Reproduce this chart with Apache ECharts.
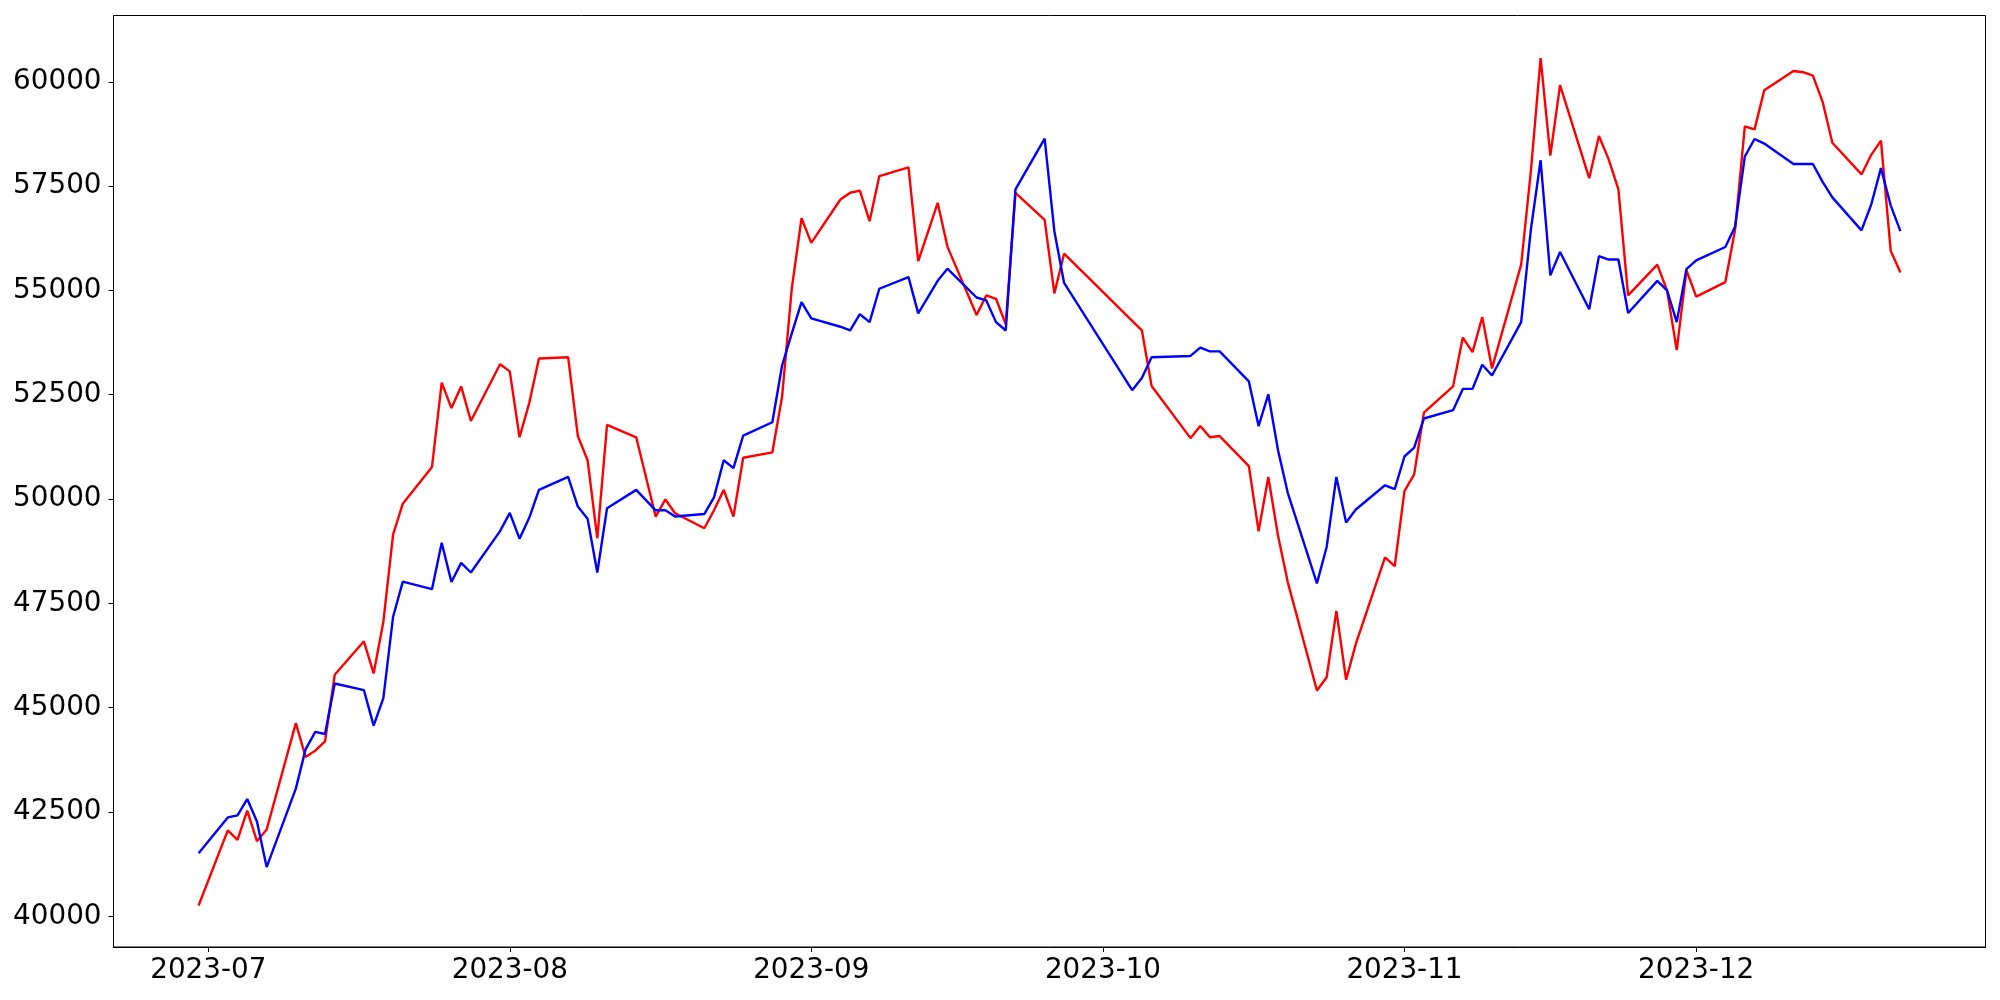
<!DOCTYPE html>
<html>
<head>
<meta charset="utf-8">
<script src="https://cdn.jsdelivr.net/npm/echarts@6/dist/echarts.min.js"></script>
<style>
  html, body { margin: 0; padding: 0; background: #fff; }
  #main { width: 2000px; height: 1000px; }
</style>
</head>
<body>
<div id="main"></div>
<script>
  // trading days (KRX calendar)
  const dates = [
    '2023-06-30',
    '2023-07-03', '2023-07-04', '2023-07-05', '2023-07-06', '2023-07-07',
    '2023-07-10', '2023-07-11', '2023-07-12', '2023-07-13', '2023-07-14',
    '2023-07-17', '2023-07-18', '2023-07-19', '2023-07-20', '2023-07-21',
    '2023-07-24', '2023-07-25', '2023-07-26', '2023-07-27', '2023-07-28',
    '2023-07-31', '2023-08-01', '2023-08-02', '2023-08-03', '2023-08-04',
    '2023-08-07', '2023-08-08', '2023-08-09', '2023-08-10', '2023-08-11',
    '2023-08-14', '2023-08-16', '2023-08-17', '2023-08-18',
    '2023-08-21', '2023-08-22', '2023-08-23', '2023-08-24', '2023-08-25',
    '2023-08-28', '2023-08-29', '2023-08-30', '2023-08-31', '2023-09-01',
    '2023-09-04', '2023-09-05', '2023-09-06', '2023-09-07', '2023-09-08',
    '2023-09-11', '2023-09-12', '2023-09-13', '2023-09-14', '2023-09-15',
    '2023-09-18', '2023-09-19', '2023-09-20', '2023-09-21', '2023-09-22',
    '2023-09-25', '2023-09-26', '2023-09-27',
    '2023-10-04', '2023-10-05', '2023-10-06',
    '2023-10-10', '2023-10-11', '2023-10-12', '2023-10-13',
    '2023-10-16', '2023-10-17', '2023-10-18', '2023-10-19', '2023-10-20',
    '2023-10-23', '2023-10-24', '2023-10-25', '2023-10-26', '2023-10-27',
    '2023-10-30', '2023-10-31', '2023-11-01', '2023-11-02', '2023-11-03',
    '2023-11-06', '2023-11-07', '2023-11-08', '2023-11-09', '2023-11-10',
    '2023-11-13', '2023-11-14', '2023-11-15', '2023-11-16', '2023-11-17',
    '2023-11-20', '2023-11-21', '2023-11-22', '2023-11-23', '2023-11-24',
    '2023-11-27', '2023-11-28', '2023-11-29', '2023-11-30', '2023-12-01',
    '2023-12-04', '2023-12-05', '2023-12-06', '2023-12-07', '2023-12-08',
    '2023-12-11', '2023-12-12', '2023-12-13', '2023-12-14', '2023-12-15',
    '2023-12-18', '2023-12-19', '2023-12-20', '2023-12-21', '2023-12-22'
  ]

  const redValues = [
    40260,
    42060, 41830, 42530, 41800, 42080,
    44630, 43820, 43970, 44190, 45790,
    46590, 45820, 47060, 49150, 49890,
    50770, 52790, 52180, 52700, 51870,
    53230, 53060, 51480, 52300, 53370,
    53400, 51510, 50930, 49060, 51780,
    51480, 49580, 49990, 49660,
    49300, 49730, 50220, 49580, 50990,
    51120, 52450, 55050, 56730, 56140,
    57180, 57340, 57390, 56660, 57740,
    57950, 55700, 56400, 57100, 56050,
    54410, 54880, 54800, 54190, 57340,
    56690, 54930, 55880,
    54270, 54040, 52710,
    51460, 51750, 51480, 51510,
    50790, 49230, 50530, 49120, 48010,
    45410, 45730, 47320, 45670, 46530,
    48600, 48390, 50190, 50590, 52070,
    52700, 53870, 53520, 54360, 53130,
    55620, 57860, 60570, 58230, 59920,
    57690, 58700, 58140, 57420, 54880,
    55620, 55000, 53570, 55480, 54850,
    55200, 56460, 58930, 58860, 59800,
    60260, 60230, 60150, 59520, 58540,
    57780, 58250, 58590, 55950, 55430
  ]

  const blueValues = [
    41510,
    42370, 42420, 42810, 42270, 41180,
    43060, 44000, 44420, 44370, 45580,
    45420, 44570, 45230, 47180, 48020,
    47840, 48950, 48010, 48470, 48240,
    49230, 49670, 49050, 49550, 50220,
    50530, 49820, 49530, 48240, 49780,
    50220, 49730, 49730, 49580,
    49640, 50040, 50930, 50740, 51520,
    51840, 53200, 53970, 54720, 54330,
    54130, 54040, 54430, 54240, 55040,
    55320, 54450, 54840, 55230, 55520,
    54830, 54760, 54240, 54040, 57420,
    58640, 56420, 55180,
    52610, 52900, 53400,
    53430, 53630, 53540, 53540,
    52820, 51750, 52510, 51170, 50150,
    47980, 48850, 50530, 49440, 49750,
    50330, 50240, 51020, 51230, 51930,
    52130, 52640, 52640, 53220, 52960,
    54240, 56460, 58120, 55360, 55920,
    54550, 55820, 55740, 55740, 54460,
    55230, 55000, 54240, 55510, 55720,
    56040, 56530, 58210, 58630, 58520,
    58030, 58030, 58030, 57600, 57230,
    56440, 57060, 57930, 57040, 56420
  ]

  const monthTicks = ['2023-07-01', '2023-08-01', '2023-09-01', '2023-10-01', '2023-11-01', '2023-12-01']
  const yTicks = [40000, 42500, 45000, 47500, 50000, 52500, 55000, 57500, 60000]

  const DAY = 86400000
  const toTs = (s) => {
    const p = s.split('-')
    return Date.UTC(+p[0], +p[1] - 1, +p[2])
  }
  const pad2 = (n) => (n < 10 ? '0' : '') + n

  const xs = dates.map(toTs)
  const xMin = xs[0] - 8.75 * DAY
  const xMax = xs[xs.length - 1] + 8.75 * DAY
  const monthTs = monthTicks.map(toTs)

  const font = {
    color: '#000',
    fontFamily: 'DejaVu Sans',
    fontSize: 27.8
  }

  const chart = echarts.init(document.getElementById('main'), null, { renderer: 'canvas' })
  chart.setOption({
    animation: false,
    backgroundColor: '#fff',
    grid: {
      left: 113.5,
      right: 14.5,
      top: 15.5,
      bottom: 53,
      containLabel: false,
      show: true,
      borderColor: '#000',
      borderWidth: 1,
      backgroundColor: 'transparent'
    },
    xAxis: {
      // timestamps on a value axis, labelled at month starts
      type: 'value',
      min: xMin,
      max: xMax,
      axisLine: { show: true, onZero: false, lineStyle: { color: '#000', width: 1 } },
      axisTick: {
        show: true,
        inside: false,
        length: 5,
        customValues: monthTs,
        lineStyle: { color: '#000', width: 1 }
      },
      axisLabel: Object.assign({
        margin: 10,
        customValues: monthTs,
        formatter: function (v) {
          const d = new Date(v)
          return d.getUTCFullYear() + '-' + pad2(d.getUTCMonth() + 1)
        }
      }, font),
      splitLine: { show: false }
    },
    yAxis: {
      type: 'value',
      min: 39264,
      max: 61589,
      axisLine: { show: true, lineStyle: { color: '#000', width: 1 } },
      axisTick: {
        show: true,
        inside: false,
        length: 5,
        customValues: yTicks,
        lineStyle: { color: '#000', width: 1 }
      },
      axisLabel: Object.assign({
        margin: 12,
        customValues: yTicks,
        formatter: function (v) {
          return String(Math.round(v))
        }
      }, font),
      splitLine: { show: false }
    },
    series: [
      {
        name: 'red',
        type: 'line',
        showSymbol: false,
        symbol: 'none',
        color: '#ff0000',
        lineStyle: { color: '#ff0000', width: 2.4 },
        data: xs.map((x, i) => [x, redValues[i]])
      },
      {
        name: 'blue',
        type: 'line',
        showSymbol: false,
        symbol: 'none',
        color: '#0000ff',
        lineStyle: { color: '#0000ff', width: 2.4 },
        data: xs.map((x, i) => [x, blueValues[i]])
      }
    ]
  })
</script>
</body>
</html>
